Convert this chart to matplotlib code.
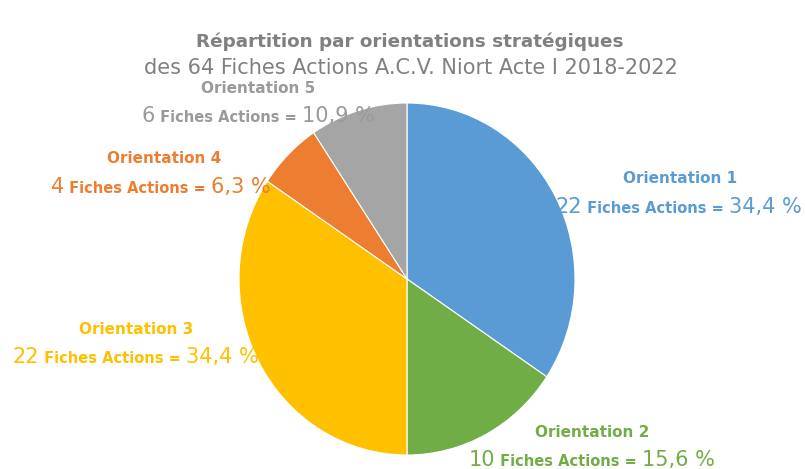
import matplotlib.pyplot as plt
from matplotlib.offsetbox import TextArea, HPacker, AnnotationBbox

# données
orientations = ['Orientation 1', 'Orientation 2', 'Orientation 3', 'Orientation 4', 'Orientation 5']
fiches = [22, 10, 22, 4, 6]
pourcents = ['34,4 %', '15,6 %', '34,4 %', '6,3 %', '10,9 %']
couleurs = ['#5B9BD5', '#70AD47', '#FFC000', '#ED7D31', '#A5A5A5']
couleurs_texte = ['#5B9BD5', '#70AD47', '#FFC000', '#ED7D31', '#9A9A9A']

# positions des étiquettes (pixels, origine en haut à gauche) : ligne 1 puis ligne 2
pos_l1 = [(680, 178), (592, 432), (136, 329), (164, 158), (258, 88)]
pos_l2 = [(679, 207), (592, 460), (136, 357), (161, 187), (258, 116)]

W, H = 805, 469
plt.rcParams['font.family'] = ['DejaVu Sans']
fig = plt.figure(figsize=(W / 100, H / 100), dpi=100)

# camembert légèrement ovale comme dans l'original (168 px de large, 176 px de haut)
k = 176 / 168
ax = fig.add_axes([0, 0, 1, 1])
ax.pie(fiches, colors=couleurs, startangle=90, counterclock=False,
       center=(407, (H - 279) / k), radius=168, frame=True,
       wedgeprops=dict(edgecolor='white', linewidth=0.8))
ax.set_xlim(0, W)
ax.set_ylim(0, H / k)
ax.set_aspect('auto')
ax.axis('off')

# textes en coordonnées pixels
tx = fig.add_axes([0, 0, 1, 1])
tx.set_xlim(0, W)
tx.set_ylim(0, H)
tx.axis('off')

tx.text(410, H - 42, 'Répartition par orientations stratégiques', ha='center', va='center',
        fontsize=13.2, fontweight='bold', color='#808080')
tx.text(411, H - 68, 'des 64 Fiches Actions A.C.V. Niort Acte I 2018-2022', ha='center', va='center',
        fontsize=15, color='#808080')

for nom, n, p, c, (x1, y1), (x2, y2) in zip(orientations, fiches, pourcents, couleurs_texte, pos_l1, pos_l2):
    tx.text(x1, H - y1, nom, ha='center', va='center', fontsize=11, fontweight='bold', color=c)
    parts = [TextArea(str(n), textprops=dict(fontsize=15, color=c)),
             TextArea(' Fiches Actions = ', textprops=dict(fontsize=10.5, color=c, fontweight='bold')),
             TextArea(p, textprops=dict(fontsize=15, color=c))]
    box = HPacker(children=parts, align='baseline', pad=0, sep=0)
    ab = AnnotationBbox(box, (x2, H - y2), frameon=False, box_alignment=(0.5, 0.5), pad=0)
    tx.add_artist(ab)

fig.savefig('out.png', dpi=100)
